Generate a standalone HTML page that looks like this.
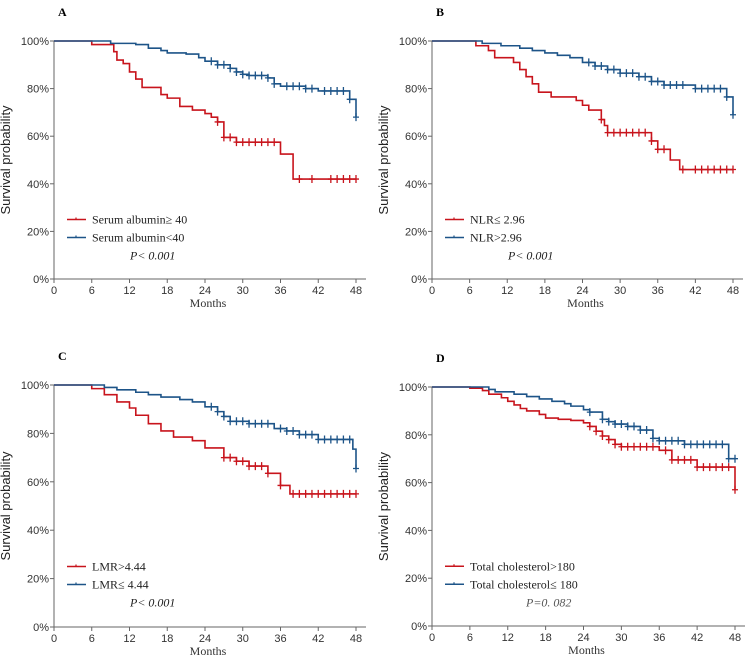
<!DOCTYPE html>
<html><head><meta charset="utf-8"><style>
body{margin:0;background:#fff}
svg text{font-family:"Liberation Sans",sans-serif}
.ser{font-family:"Liberation Serif",serif}
</style></head><body>
<svg id="c" width="750" height="662" viewBox="0 0 750 662"></svg>
<script>
const xTicks=[0,6,12,18,24,30,36,42,48];
const yTicks=[0,20,40,60,80,100];
const panelLabels=["A","B","C","D"];
const legendRed=["Serum albumin≥ 40","NLR≤ 2.96","LMR>4.44","Total cholesterol>180"];
const legendBlue=["Serum albumin<40","NLR>2.96","LMR≤ 4.44","Total cholesterol≤ 180"];
const pTexts=["P< 0.001","P< 0.001","P< 0.001","P=0. 082"];
// step times and survival values
const aBlueT=[8,9,13,15,17,18,21,23,24,26,28,29,30,31,34,35,36,40,42,47,48];
const aBlueS=[1,.99,.985,.97,.96,.95,.945,.93,.915,.9,.885,.87,.86,.855,.845,.82,.81,.8,.79,.755,.68];
const aBlueC=[25,26,27,28,29,30,31,32,33,34,35,37,38,39,40,41,43,44,45,46,47,48];
const aRedT=[6,9.5,10,11,12,13,14,17,18,20,22,24,25,26,27,29,36,38];
const aRedS=[.985,.955,.92,.905,.87,.84,.805,.775,.76,.725,.71,.695,.68,.66,.595,.575,.525,.42];
const aRedC=[26,27,28,29,30,31,32,33,34,35,39,41,44,45,46,47,48];
const bBlueT=[8,11,14,16,18,20,22,24,26,28,30,33,35,37,42,47,48];
const bBlueS=[.99,.98,.97,.96,.95,.94,.93,.91,.895,.88,.865,.85,.83,.815,.8,.765,.69];
const bBlueC=[25,26,27,28,29,30,31,32,33,34,35,36,37,38,39,40,42,43,44,45,46,47,48];
const bRedT=[7,9,10,13,14,15,16,17,19,23,24,25,27,27.5,28,35,36,38,39.5];
const bRedS=[.98,.96,.93,.91,.88,.85,.82,.785,.765,.75,.73,.71,.67,.645,.615,.58,.545,.5,.46];
const bRedC=[27,28,29,30,31,32,33,34,35,36,37,40,42,43,44,45,46,47,48];
const cBlueT=[8,10,13,15,17,20,22,24,26,27,28,31,35,37,39,42,47.5,48];
const cBlueS=[.99,.98,.97,.96,.95,.94,.93,.91,.89,.87,.85,.84,.82,.81,.795,.775,.735,.655];
const cBlueC=[25,26,27,28,29,30,31,32,33,34,36,37,38,39,40,41,42,43,44,45,46,47,48];
const cRedT=[6,8,10,12,13,15,17,19,22,24,27,29,31,34,36,37.5];
const cRedS=[.985,.96,.93,.905,.875,.84,.81,.785,.77,.74,.7,.685,.665,.635,.585,.55];
const cRedC=[27,28,29,30,31,32,33,34,36,38,39,40,41,42,43,44,45,46,47,48];
const dBlueT=[9,10,13,15,17,19,21,22,24,25,27,28,29,31,33,35,36,40,47];
const dBlueS=[.99,.98,.97,.96,.95,.94,.93,.92,.905,.895,.865,.855,.845,.835,.82,.785,.775,.76,.7];
const dBlueC=[25,27,28,29,30,31,32,33,34,35,36,37,38,39,40,41,42,43,44,45,46,47,48];
const dRedT=[6,8,9,11,12,13,14,15,17,18,20,22,24,25,26,27,28,29,30,36,38,42,48];
const dRedS=[.995,.985,.97,.955,.94,.925,.91,.9,.885,.87,.865,.86,.85,.835,.815,.795,.78,.76,.75,.735,.695,.665,.57];
const dRedC=[25,26,27,28,29,30,31,32,33,34,35,37,38,39,40,41,42,43,44,45,46,47,48];
const panels=[
 {x0:54,x1:356,y0:279,y1:41,b:[aBlueT,aBlueS,aBlueC],r:[aRedT,aRedS,aRedC]},
 {x0:432,x1:733,y0:279,y1:41,b:[bBlueT,bBlueS,bBlueC],r:[bRedT,bRedS,bRedC]},
 {x0:54,x1:356,y0:627,y1:385,b:[cBlueT,cBlueS,cBlueC],r:[cRedT,cRedS,cRedC]},
 {x0:432,x1:735,y0:626,y1:387,b:[dBlueT,dBlueS,dBlueC],r:[dRedT,dRedS,dRedC]}];
const NS="http://www.w3.org/2000/svg",svg=document.getElementById('c');
function mk(t,a,p){const e=document.createElementNS(NS,t);for(const k in a)e.setAttribute(k,a[k]);(p||svg).appendChild(e);return e;}
const RED="#c8141c",BLUE="#1d5488";
panels.forEach((P,i)=>{
 const g=mk('g',{});
 
 
 const X=t=>P.x0+(P.x1-P.x0)*t/48, Y=s=>P.y0+(P.y1-P.y0)*s;
 let t=mk('text',{x:P.x0+4,y:P.y1-25,'font-size':12,'font-weight':'bold',class:'ser'},g);t.textContent=panelLabels[i];
 
 const ax=mk('path',{d:`M${P.x0},${P.y1}V${P.y0}H${P.x1+10}`,stroke:'#666',fill:'none','stroke-width':1},g);
 
 xTicks.forEach(v=>{mk('line',{x1:X(v),x2:X(v),y1:P.y0,y2:P.y0+4,stroke:'#666'},g);
  const tt=mk('text',{x:X(v),y:P.y0+15,'font-size':11,'text-anchor':'middle',fill:'#333'},g);tt.textContent=v;
  });
 yTicks.forEach(v=>{mk('line',{x1:P.x0-4,x2:P.x0,y1:Y(v/100),y2:Y(v/100),stroke:'#666'},g);
  const tt=mk('text',{x:P.x0-5,y:Y(v/100)+4,'font-size':11,'text-anchor':'end',fill:'#333'},g);tt.textContent=v+'%';
  });
 let xt=mk('text',{x:(P.x0+P.x1)/2+3,y:P.y0+28,'font-size':12,'text-anchor':'middle',class:'ser',fill:'#333'},g);xt.textContent='Months';
 
 const cy=(P.y0+P.y1)/2, yx=P.x0-44;
 let yt=mk('text',{x:yx,y:cy,'font-size':13,'text-anchor':'middle',transform:`rotate(-90 ${yx} ${cy})`,fill:'#222'},g);yt.textContent='Survival probability';
 
 [[P.r,RED,'red'],[P.b,BLUE,'blue']].forEach(([d,col,nm])=>{
  const [T,S,C]=d;let path=`M${X(0)},${Y(1)}`;let s=1;
  T.forEach((tt,k)=>{path+=`H${X(tt)}V${Y(S[k])}`;s=S[k];});
  path+=`H${X(48)}`;
  const p=mk('path',{d:path,stroke:col,fill:'none','stroke-width':1.6},g);
  
  const sAt=tc=>{let v=1;T.forEach((tt,k)=>{if(tt<=tc)v=S[k];});return v;};
  C.forEach(tc=>{const m=mk('path',{d:`M${X(tc)-3},${Y(sAt(tc))}h6M${X(tc)},${Y(sAt(tc))-4}v8`,stroke:col,'stroke-width':1.3},g);
   });
 });
 const ly=P.y0-(P.y0-P.y1)*0.25;
 [[legendRed[i],RED,0],[legendBlue[i],BLUE,1]].forEach(([lab,col,k])=>{
  const yy=ly+k*18-(i==3?0:0);
  const le=mk('g',{},g);
  mk('line',{x1:P.x0+13,x2:P.x0+32,y1:yy,y2:yy,stroke:col,'stroke-width':1.5},le);
  mk('line',{x1:P.x0+22,x2:P.x0+22,y1:yy-2,y2:yy,stroke:col,'stroke-width':1.2},le);
  const lt=mk('text',{x:P.x0+38,y:yy+4,'font-size':12,class:'ser',fill:'#222'},le);lt.textContent=lab;
 });
 const pt=mk('text',{x:P.x0+(i==3?94:76),y:ly+40,'font-size':12,class:'ser','font-style':'italic',fill:i==3?'#555':'#222'},g);pt.textContent=pTexts[i];
 
});
</script>
</body></html>
